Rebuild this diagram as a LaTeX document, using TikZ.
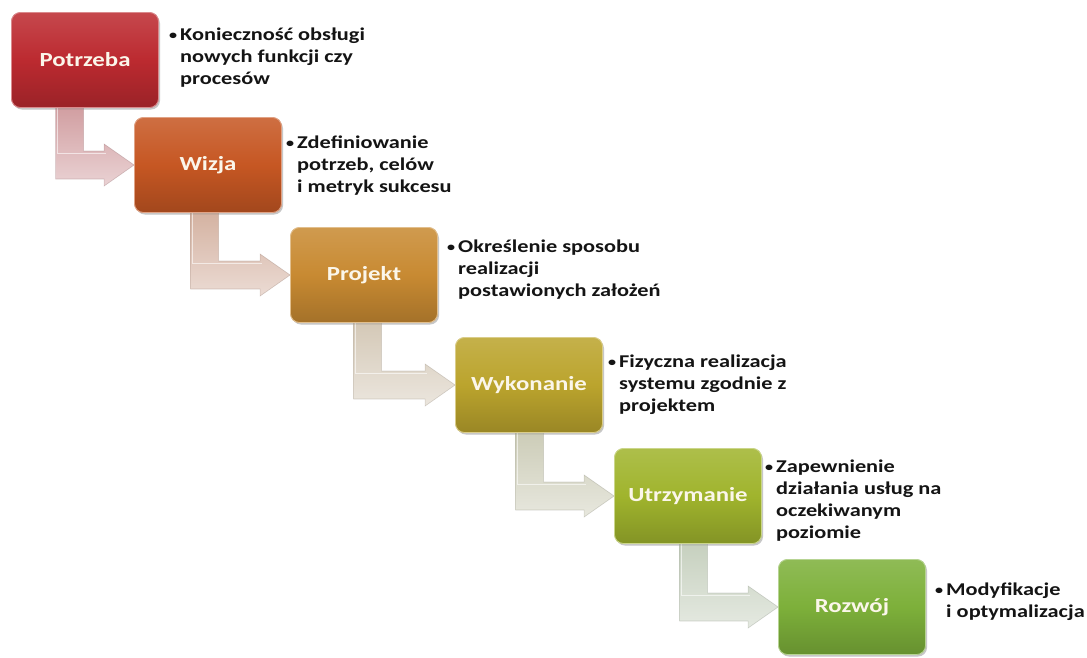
\documentclass[tikz,border=0pt]{standalone}
\usepackage{fontspec}
\setmainfont{Carlito}[FakeStretch=1.24]
\usetikzlibrary{calc,shadows}

% stage colours, red to green
\definecolor{s1}{HTML}{BC2A30}
\definecolor{s2}{HTML}{C65723}
\definecolor{s3}{HTML}{C88A32}
\definecolor{s4}{HTML}{BBA42D}
\definecolor{s5}{HTML}{A0B42D}
\definecolor{s6}{HTML}{7DB03A}
% pale tints of the bent arrows
\definecolor{a1}{HTML}{D09C9F}
\definecolor{a2}{HTML}{D3B09F}
\definecolor{a3}{HTML}{D3C7B5}
\definecolor{a4}{HTML}{CBCBB6}
\definecolor{a5}{HTML}{C5CFBD}
\definecolor{labeltext}{HTML}{FBF6EA}

\newcommand\bulmark{\makebox[11pt][l]{\fontsize{13}{13}\selectfont\raisebox{1pt}{•}}}
\newcommand\hangin{\hspace*{11pt}}

% bent arrow from below stage #1 (bar centre #3 from its left side) to the west side of stage #2
\newcommand\stagelink[4]{%
  \path[top color=#4, bottom color=#4!45!white, draw=#4!70!black, draw opacity=0.35, line width=0.6pt]
    let \p1=($(#1.south west)+(#3,-4)$), \p2=(#2.west) in
    ({\x1-14pt},\y1) -- ({\x1-14pt},{\y2-14pt}) -- ({\x2-30pt},{\y2-14pt})
    -- ({\x2-30pt},{\y2-21pt}) -- (\x2,\y2) -- ({\x2-30pt},{\y2+21pt})
    -- ({\x2-30pt},{\y2+14pt}) -- ({\x1+14pt},{\y2+14pt}) -- ({\x1+14pt},\y1) -- cycle;
  \draw[white, opacity=0.6, line width=0.8pt]
    let \p1=($(#1.south west)+(#3,-4)$), \p2=(#2.west) in
    ({\x1-12pt},\y1) -- ({\x1-12pt},{\y2+12pt}) -- ({\x2-28pt},{\y2+12pt});
}

\begin{document}
\begin{tikzpicture}[x=1pt,y=-1pt,
  stage/.style={rounded corners=9pt, minimum width=147pt, minimum height=95pt,
    inner sep=0pt, draw=#1!55!white, line width=0.8pt,
    top color=#1!86!white, bottom color=#1!82!black, middle color=#1,
    drop shadow={opacity=0.25, shadow xshift=1.5pt, shadow yshift=-2pt},
    text=labeltext, font=\fontsize{20}{24}\selectfont\bfseries},
  note/.style={anchor=north west, align=left, inner sep=0pt,
    font=\fontsize{18}{22}\selectfont\bfseries, text=black!92}]

\useasboundingbox[fill=white] (0,0) rectangle (1087,657);

% stage boxes placed first so the arrows can refer to them
\path
  node[stage=s1] (b1) at (85,60)   {Potrzeba}
  node[stage=s2] (b2) at (208,165) {Wizja}
  node[stage=s3] (b3) at (364,275) {Projekt}
  node[stage=s4] (b4) at (529,385) {Wykonanie}
  node[stage=s5] (b5) at (688,496) {Utrzymanie}
  node[stage=s6] (b6) at (852,607) {Rozwój};

% bent arrows between consecutive stages
\stagelink{b1}{b2}{58.5}{a1}
\stagelink{b2}{b3}{70.5}{a2}
\stagelink{b3}{b4}{77.5}{a3}
\stagelink{b4}{b5}{74.5}{a4}
\stagelink{b5}{b6}{79.5}{a5}

% redraw the boxes on top of the arrow ends
\path
  node[stage=s1] at (b1) {Potrzeba}
  node[stage=s2] at (b2) {Wizja}
  node[stage=s3] at (b3) {Projekt}
  node[stage=s4] at (b4) {Wykonanie}
  node[stage=s5] at (b5) {Utrzymanie}
  node[stage=s6] at (b6) {Rozwój};

% descriptions
\node[note] (t1) at (169,25) {\rule{0pt}{15pt}\bulmark Konieczność obsługi\\\hangin nowych funkcji czy\\\hangin procesów};
\node[note] (t2) at (286,133) {\rule{0pt}{15pt}\bulmark Zdefiniowanie\\\hangin potrzeb, celów\\\hangin i metryk sukcesu};
\node[note] (t3) at (447,237) {\rule{0pt}{15pt}\bulmark Określenie sposobu\\\hangin realizacji\\\hangin postawionych założeń};
\node[note] (t4) at (608,352) {\rule{0pt}{15pt}\bulmark Fizyczna realizacja\\\hangin systemu zgodnie z\\\hangin projektem};
\node[note] (t5) at (765,457) {\rule{0pt}{15pt}\bulmark Zapewnienie\\\hangin działania usług na\\\hangin oczekiwanym\\\hangin poziomie};
\node[note] (t6) at (935,580) {\rule{0pt}{15pt}\bulmark Modyfikacje\\\hangin i optymalizacja};
\end{tikzpicture}
\end{document}
